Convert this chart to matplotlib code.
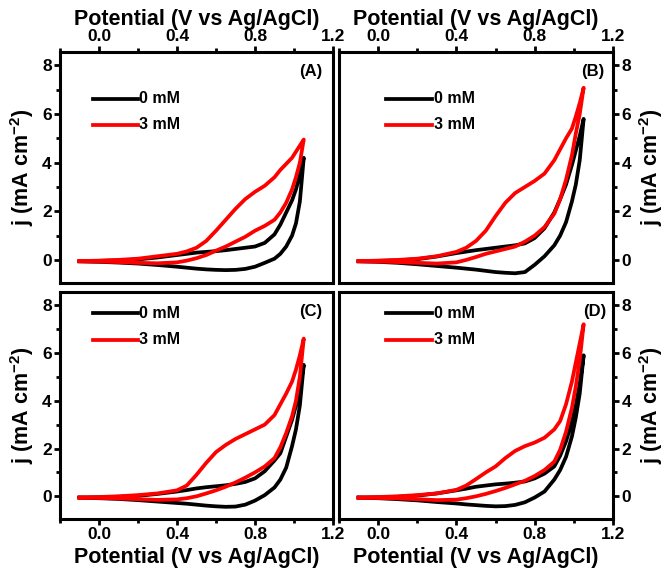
import matplotlib
matplotlib.use('Agg')
import matplotlib.pyplot as plt
import numpy as np
from matplotlib.ticker import MultipleLocator

plt.rcParams['font.family'] = 'Liberation Sans'
plt.rcParams['font.weight'] = 'bold'
plt.rcParams['mathtext.fontset'] = 'custom'
plt.rcParams['mathtext.rm'] = 'Liberation Sans:bold'
plt.rcParams['mathtext.default'] = 'rm'

# ------------------- DATA -------------------
# potential grid (V vs Ag/AgCl); forward = anodic sweep, reverse = return sweep
E = [-0.1, 0.0, 0.1, 0.2, 0.3, 0.4, 0.45, 0.5, 0.55, 0.6, 0.65, 0.7, 0.75,
     0.8, 0.85, 0.9, 0.93, 0.96, 0.99, 1.01, 1.03, 1.05]

# (A)
a0_fwd = [-0.05, -0.04, -0.02, 0.02, 0.1, 0.2, 0.25, 0.3, 0.33, 0.36, 0.4, 0.45, 0.5,
          0.55, 0.7, 1.05, 1.45, 1.95, 2.45, 2.9, 3.5, 4.2]
a0_rev = [-0.06, -0.08, -0.11, -0.15, -0.21, -0.28, -0.32, -0.36, -0.39, -0.41, -0.42, -0.41, -0.37,
          -0.28, -0.12, 0.05, 0.25, 0.55, 1.0, 1.5, 2.4, 4.2]
a3_fwd = [-0.05, -0.03, 0.0, 0.05, 0.15, 0.25, 0.35, 0.5, 0.78, 1.2, 1.65, 2.1, 2.5,
          2.8, 3.05, 3.4, 3.7, 3.95, 4.2, 4.45, 4.7, 4.95]
a3_rev = [-0.06, -0.07, -0.09, -0.12, -0.14, -0.1, -0.03, 0.07, 0.2, 0.38, 0.55, 0.75, 0.95,
          1.2, 1.4, 1.65, 1.95, 2.35, 2.9, 3.4, 4.0, 4.95]

# (B)
b0_fwd = [-0.05, -0.04, -0.02, 0.03, 0.14, 0.28, 0.34, 0.4, 0.45, 0.5, 0.55, 0.6, 0.68,
          0.9, 1.3, 1.95, 2.5, 3.1, 3.9, 4.5, 5.1, 5.8]
b0_rev = [-0.06, -0.08, -0.12, -0.18, -0.25, -0.32, -0.36, -0.4, -0.45, -0.5, -0.53, -0.55, -0.5,
          -0.2, 0.15, 0.6, 1.0, 1.55, 2.4, 3.1, 4.1, 5.8]
b3_fwd = [-0.05, -0.03, 0.0, 0.05, 0.15, 0.33, 0.5, 0.78, 1.2, 1.8, 2.35, 2.75, 3.0,
          3.25, 3.55, 4.1, 4.55, 5.0, 5.4, 5.9, 6.45, 7.08]
b3_rev = [-0.06, -0.07, -0.09, -0.12, -0.15, -0.1, 0.0, 0.12, 0.25, 0.35, 0.45, 0.55, 0.75,
          1.0, 1.35, 1.9, 2.5, 3.3, 4.3, 5.2, 6.0, 7.08]

# (C)
c0_fwd = [-0.05, -0.04, -0.02, 0.02, 0.1, 0.2, 0.26, 0.33, 0.38, 0.42, 0.46, 0.52, 0.6,
          0.75, 1.05, 1.5, 1.8, 2.5, 3.2, 3.8, 4.55, 5.5]
c0_rev = [-0.06, -0.08, -0.11, -0.16, -0.22, -0.28, -0.31, -0.35, -0.39, -0.42, -0.44, -0.43, -0.35,
          -0.18, 0.05, 0.37, 0.7, 1.2, 2.1, 2.8, 3.8, 5.5]
c3_fwd = [-0.05, -0.03, 0.0, 0.05, 0.12, 0.25, 0.45, 0.9, 1.4, 1.85, 2.15, 2.4, 2.6,
          2.8, 3.0, 3.4, 3.85, 4.3, 4.8, 5.3, 5.9, 6.6]
c3_rev = [-0.06, -0.07, -0.09, -0.12, -0.15, -0.13, -0.08, 0.0, 0.12, 0.25, 0.4, 0.58, 0.78,
          1.0, 1.25, 1.6, 2.05, 2.65, 3.35, 4.0, 5.0, 6.6]

# (D)
d0_fwd = [-0.05, -0.04, -0.02, 0.03, 0.12, 0.25, 0.32, 0.4, 0.45, 0.5, 0.53, 0.57, 0.62,
          0.75, 0.95, 1.25, 1.7, 2.3, 3.1, 3.8, 4.7, 5.9]
d0_rev = [-0.06, -0.08, -0.12, -0.17, -0.24, -0.3, -0.34, -0.37, -0.4, -0.42, -0.41, -0.36, -0.25,
          -0.05, 0.2, 0.7, 1.1, 1.65, 2.5, 3.3, 4.3, 5.9]
d3_fwd = [-0.05, -0.03, 0.0, 0.05, 0.12, 0.27, 0.45, 0.72, 1.0, 1.25, 1.6, 1.9, 2.1,
          2.25, 2.45, 2.8, 3.15, 3.85, 4.8, 5.6, 6.4, 7.2]
d3_rev = [-0.06, -0.07, -0.09, -0.12, -0.16, -0.14, -0.08, 0.0, 0.1, 0.22, 0.35, 0.5, 0.65,
          0.85, 1.1, 1.45, 1.95, 2.7, 3.7, 4.6, 5.7, 7.2]

labels = ['0 mM', '3 mM']
panel_names = ['(A)', '(B)', '(C)', '(D)']


def loop(fwd, rev):
    # forward sweep then back along the return sweep
    x = list(E) + list(E[::-1])
    y = list(fwd) + list(rev[::-1])
    return x, y


# ------------------- LAYOUT -------------------
fig = plt.figure(figsize=(6.66, 5.76), dpi=100)
W, H = 666, 576
boxes = [(60, 52, 333, 283), (339, 52, 613, 283),
         (60, 292, 333, 519), (339, 292, 613, 519)]
data = [(a0_fwd, a0_rev, a3_fwd, a3_rev), (b0_fwd, b0_rev, b3_fwd, b3_rev),
        (c0_fwd, c0_rev, c3_fwd, c3_rev), (d0_fwd, d0_rev, d3_fwd, d3_rev)]
leg_y = [(0.797, 0.684), (0.797, 0.684), (0.907, 0.79), (0.907, 0.79)]
leg_x = [(0.12, 0.286), (0.17, 0.34), (0.12, 0.286), (0.17, 0.34)]
name_x = [0.96, 0.967, 0.96, 0.975]

for i in range(4):
    l, t, r, b = boxes[i]
    ax = fig.add_axes([l / W, 1 - b / H, (r - l) / W, (b - t) / H])
    k0f, k0r, k3f, k3r = data[i]
    x, y = loop(k0f, k0r)
    ax.plot(x, y, color='black', lw=2.7, solid_joinstyle='round')
    x, y = loop(k3f, k3r)
    ax.plot(x, y, color='#ff0000', lw=2.7, solid_joinstyle='round')

    # legend drawn by hand
    for col, yy, lab in zip(['black', '#ff0000'], leg_y[i], labels):
        ax.plot(leg_x[i], [yy, yy], color=col, lw=2.7, transform=ax.transAxes)
        ax.text(leg_x[i][1] + 0.005, yy, lab, transform=ax.transAxes,
                fontsize=11.5, fontweight='bold', va='center', ha='left')
    ax.text(name_x[i], 0.915, panel_names[i], transform=ax.transAxes,
            fontsize=12, fontweight='bold', ha='right', va='center')

    ax.set_xlim(-0.2, 1.2)
    ax.set_ylim(-0.95, 8.55)
    ax.xaxis.set_major_locator(MultipleLocator(0.4))
    ax.xaxis.set_minor_locator(MultipleLocator(0.2))
    ax.yaxis.set_major_locator(MultipleLocator(2))
    ax.yaxis.set_minor_locator(MultipleLocator(1))
    ax.xaxis.set_major_formatter(plt.FuncFormatter(lambda v, p: '%.1f' % v))
    for s in ax.spines.values():
        s.set_linewidth(2.2)

    top = i < 2
    right = i % 2 == 1
    ax.tick_params(which='both', direction='out', width=2,
                   top=top, labeltop=top, bottom=not top, labelbottom=not top,
                   left=not right, labelleft=not right, right=right, labelright=right,
                   labelsize=12.5, pad=2)
    ax.tick_params(which='major', length=4)
    ax.tick_params(which='minor', length=3)
    for lab in ax.get_xticklabels() + ax.get_yticklabels():
        lab.set_fontweight('bold')

    xlab = 'Potential (V vs Ag/AgCl)'
    ylab = 'j (mA cm$^{-2}$)'
    if top:
        ax.xaxis.set_label_position('top')
    ax.set_xlabel(xlab, fontsize=15.5, fontweight='bold', labelpad=3)
    if right:
        ax.yaxis.set_label_position('right')
    ax.set_ylabel(ylab, fontsize=15.5, fontweight='bold', labelpad=4)

fig.savefig('out.png', dpi=100)
